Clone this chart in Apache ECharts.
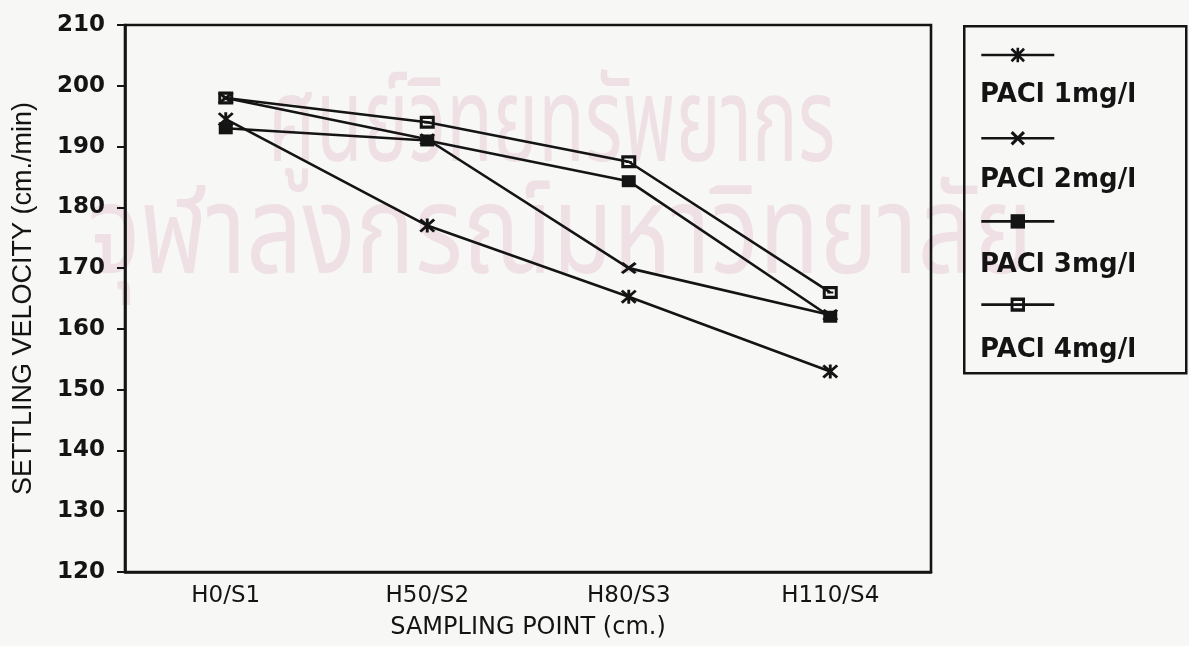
<!DOCTYPE html>
<html>
<head>
<meta charset="utf-8">
<title>Settling velocity by sampling point</title>
<script src="https://cdn.jsdelivr.net/npm/echarts@6/dist/echarts.min.js"></script>
<style>
  html, body { margin: 0; padding: 0; background: #f7f7f5; }
  #chart { width: 1189px; height: 646px; }
</style>
</head>
<body>
<div id="chart"></div>
<script>
// Sampling points along the column (height / station)
const categories = ['H0/S1', 'H50/S2', 'H80/S3', 'H110/S4'];

// Settling velocity (cm./min) for each PACl dose
const pacl1 = [194.5, 177, 165.3, 153];
const pacl2 = [198, 191.2, 170, 162.3];
const pacl3 = [193, 191, 184.3, 162];
const pacl4 = [198, 194, 187.5, 166];

const seriesNames = ['PACl 1mg/l', 'PACl 2mg/l', 'PACl 3mg/l', 'PACl 4mg/l'];

// Y axis range and step
const yMin = 120;
const yMax = 210;
const yStep = 10;

// Marker shapes
const asteriskPath = 'path://M4.1,0L5.9,0L5.9,10L4.1,10Z M0,1.3L1.3,0L10,8.7L8.7,10Z M8.7,0L10,1.3L1.3,10L0,8.7Z';
const crossPath = 'path://M0,1.5L1.5,0L10,8.5L8.5,10Z M8.5,0L10,1.5L1.5,10L0,8.5Z';
const patternSquarePath = 'path://M0,0L10,0L10,8L0,8Z M2,2L2,6L8,6L8,2Z M3,3.5L7,3.5L7,4.7L3,4.7Z';

const ink = '#141414';
const stamp = 'rgba(200, 110, 155, 0.17)';
const stampFont = '88px "Noto Sans Thai", "Noto Sans", "DejaVu Sans", sans-serif';

const chart = echarts.init(document.getElementById('chart'));

function lineSeries(name, data, symbol, size) {
  return {
    name: name,
    type: 'line',
    data: data,
    symbol: symbol,
    symbolSize: size,
    showAllSymbol: true,
    lineStyle: { color: ink, width: 2.6 },
    itemStyle: { color: ink, borderWidth: 0 },
    emphasis: { disabled: true }
  };
}

const option = {
  backgroundColor: '#f7f7f5',
  animation: false,
  graphic: [
    {
      type: 'text',
      z: -10,
      x: 268,
      y: 78,
      scaleX: 0.87,
      scaleY: 1.35,
      style: { text: 'ศูนย์วิทยทรัพยากร', font: stampFont, fill: stamp }
    },
    {
      type: 'text',
      z: -10,
      x: 88,
      y: 186,
      scaleX: 1.12,
      scaleY: 1.4,
      style: { text: 'จุฬาลงกรณ์มหาวิทยาลัย', font: stampFont, fill: stamp }
    },
    {
      type: 'rect',
      left: 963,
      top: 25,
      shape: { width: 222, height: 347 },
      style: { fill: 'transparent', stroke: ink, lineWidth: 2.5 }
    }
  ],
  grid: {
    left: 125,
    top: 25,
    width: 806,
    height: 547,
    show: true,
    borderColor: ink,
    borderWidth: 2.6,
    backgroundColor: 'transparent'
  },
  legend: [
    {
      // symbol row of each entry
      orient: 'vertical',
      left: 980,
      top: 46,
      padding: 0,
      itemWidth: 73,
      itemHeight: 18,
      itemGap: 67,
      selectedMode: false,
      formatter: function () { return ''; },
      lineStyle: { width: 2.6, color: ink },
      textStyle: { fontSize: 1 },
      data: seriesNames
    },
    {
      // name row of each entry
      orient: 'vertical',
      left: 974,
      top: 81,
      padding: 0,
      itemWidth: 1,
      itemHeight: 1,
      itemGap: 57,
      icon: 'rect',
      itemStyle: { opacity: 0 },
      lineStyle: { opacity: 0 },
      selectedMode: false,
      textStyle: {
        color: ink,
        fontFamily: 'DejaVu Sans',
        fontWeight: 'bold',
        fontSize: 26,
        lineHeight: 28
      },
      data: seriesNames
    }
  ],
  xAxis: {
    type: 'category',
    data: categories,
    boundaryGap: true,
    name: 'SAMPLING POINT (cm.)',
    nameLocation: 'middle',
    nameGap: 44,
    nameTextStyle: {
      color: ink,
      fontFamily: 'DejaVu Sans',
      fontSize: 24
    },
    axisLine: { lineStyle: { color: ink, width: 2.6 } },
    axisTick: { alignWithLabel: true, length: 8, lineStyle: { color: ink, width: 2 } },
    axisLabel: {
      color: ink,
      fontFamily: 'DejaVu Sans',
      fontSize: 23,
      margin: 13
    },
    splitLine: { show: false }
  },
  yAxis: {
    type: 'value',
    min: yMin,
    max: yMax,
    interval: yStep,
    name: 'SETTLING VELOCITY (cm./min)',
    nameLocation: 'middle',
    nameGap: 88,
    nameTextStyle: {
      color: ink,
      fontFamily: 'Liberation Sans',
      fontSize: 27
    },
    axisLine: { show: true, lineStyle: { color: ink, width: 2.6 } },
    axisTick: { show: true, length: 8, lineStyle: { color: ink, width: 2 } },
    axisLabel: {
      color: ink,
      fontFamily: 'DejaVu Sans',
      fontWeight: 'bold',
      fontSize: 23,
      margin: 20
    },
    splitLine: { show: false }
  },
  series: [
    lineSeries(seriesNames[0], pacl1, asteriskPath, [16, 14]),
    lineSeries(seriesNames[1], pacl2, crossPath, [16, 12]),
    lineSeries(seriesNames[2], pacl3, 'rect', [14, 12]),
    lineSeries(seriesNames[3], pacl4, patternSquarePath, [15, 13])
  ]
};

chart.setOption(option);
</script>
</body>
</html>
